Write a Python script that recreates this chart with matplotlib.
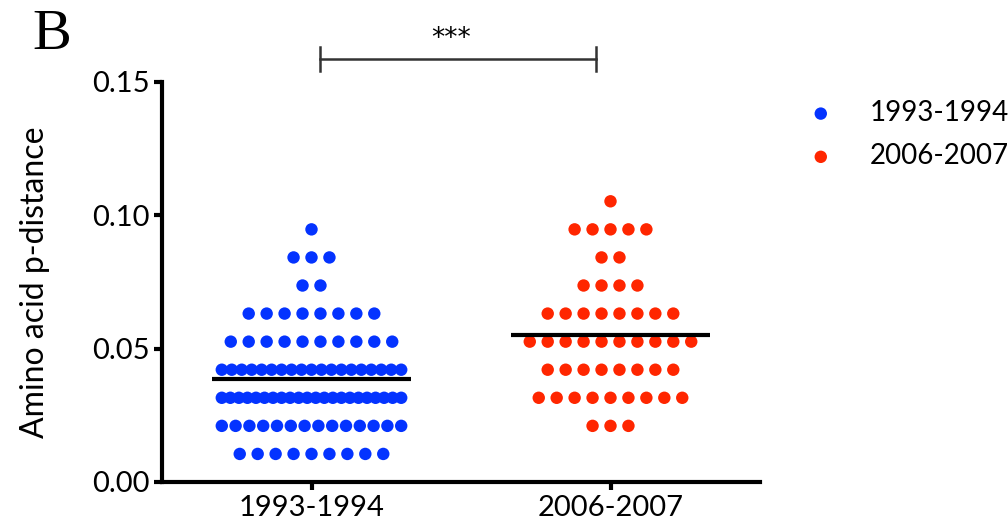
import numpy as np
import matplotlib
matplotlib.use("Agg")
import matplotlib.pyplot as plt

# p-distance levels (k / 95 substitutions) and how many sequences sit at each
levels = np.arange(1, 11) / 95.0
groups = ["1993-1994", "2006-2007"]
counts_1993 = [9, 14, 22, 19, 10, 8, 2, 3, 1, 0]
counts_2006 = [0, 3, 9, 8, 10, 8, 4, 2, 5, 1]
colors = ["#0433FF", "#FF2600"]

values_1993 = np.repeat(levels, counts_1993)
values_2006 = np.repeat(levels, counts_2006)

plt.rcParams["font.family"] = ["Lato", "DejaVu Sans"]

SPACING = 0.06
HALF_WIDTH = 0.3


def row_offsets(n):
    if n <= 1:
        return np.zeros(n)
    if (n - 1) * SPACING / 2 <= HALF_WIDTH:
        return (np.arange(n) - (n - 1) / 2) * SPACING
    return np.linspace(-HALF_WIDTH, HALF_WIDTH, n)


def swarm_x(values, center):
    xs = np.zeros(len(values))
    for lv in np.unique(values):
        idx = np.where(values == lv)[0]
        xs[idx] = center + row_offsets(len(idx))
    return xs


fig = plt.figure(figsize=(10.08, 5.30), dpi=100)
ax = fig.add_axes([162 / 1008, 1 - 482 / 530, (760 - 162) / 1008, 400 / 530])

for i, (vals, col, name) in enumerate(zip([values_1993, values_2006], colors, groups)):
    ax.scatter(swarm_x(vals, i), vals, s=80, color=col, edgecolors="none",
               label=name, zorder=3, clip_on=False)
    m = vals.mean()
    ax.plot([i - 0.333, i + 0.333], [m, m], color="black", lw=3, zorder=4,
            solid_capstyle="butt")

ax.set_xlim(-0.5, 1.5)
ax.set_ylim(0, 0.15)
ax.set_yticks([0, 0.05, 0.10, 0.15])
ax.set_yticklabels(["0.00", "0.05", "0.10", "0.15"])
ax.set_xticks([0, 1])
ax.set_xticklabels(groups)
ax.spines["top"].set_visible(False)
ax.spines["right"].set_visible(False)
for s in ["left", "bottom"]:
    ax.spines[s].set_linewidth(3)
ax.tick_params(width=3, length=6, labelsize=21, pad=3)
ax.set_ylabel("Amino acid p-distance", fontsize=23, labelpad=30)

# significance bracket
yb = 0.15 + 23 / 2667
ax.plot([0.027, 0.953], [yb, yb], color="#333333", lw=1.8, clip_on=False)
for xb in [0.027, 0.953]:
    ax.plot([xb, xb], [yb - 0.0045, yb + 0.0045], color="#333333", lw=1.8,
            clip_on=False)
ax.text(0.467, yb + 0.0028, "***", ha="center", va="bottom", fontsize=19,
        family="DejaVu Sans", clip_on=False)

fig.text(32 / 1008, 1 - 35 / 530, "B", family="Liberation Serif", fontsize=42,
         va="center")

fig.legend(loc="upper left", bbox_to_anchor=(793 / 1008, 1 - 86 / 530),
           frameon=False, fontsize=20, handletextpad=1.25, labelspacing=0.62,
           markerscale=1.0, borderpad=0, handlelength=1.0)

fig.savefig("out.png", dpi=100)
